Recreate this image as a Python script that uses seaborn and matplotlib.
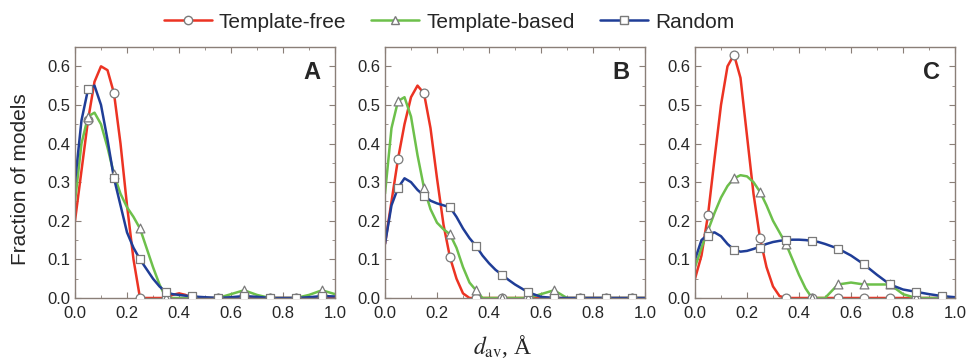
import numpy as np
import pandas as pd
import seaborn as sns
import matplotlib.pyplot as plt
from matplotlib.lines import Line2D
from matplotlib.ticker import MultipleLocator

# marker positions (bin centres) and smooth-curve sample positions
marker_x = [0.05, 0.15, 0.25, 0.35, 0.45, 0.55, 0.65, 0.75, 0.85, 0.95]
curve_x = [0, .025, .05, .075, .1, .125, .15, .175, .2, .225, .25, .275, .3, .325, .35,
           .375, .4, .425, .45, .475, .5, .55, .6, .65, .7, .75, .8, .85, .9, .95, 1.0]

series_names = ['Template-free', 'Template-based', 'Random']
panel_labels = ['A', 'B', 'C']

# Panel A
A_free = [0.46, 0.53, 0, 0, 0, 0, 0, 0, 0, 0]
A_based = [0.47, 0.32, 0.18, 0, 0, 0, 0.02, 0, 0, 0.02]
A_random = [0.54, 0.31, 0.10, 0.015, 0.005, 0, 0.005, 0, 0, 0.005]
A_free_curve = [0.20, 0.33, 0.46, 0.56, 0.60, 0.59, 0.53, 0.40, 0.24, 0.10, 0.0, 0, 0, 0, 0,
                0.008, 0.012, 0.008, 0, 0, 0, 0, 0, 0, 0, 0, 0, 0, 0, 0, 0]
A_based_curve = [0.25, 0.40, 0.47, 0.48, 0.45, 0.39, 0.32, 0.27, 0.235, 0.21, 0.18, 0.13, 0.08, 0.035, 0,
                 0, 0, 0, 0, 0, 0, 0, 0.01, 0.02, 0.008, 0, 0, 0, 0.008, 0.02, 0.01]
A_random_curve = [0.30, 0.46, 0.54, 0.55, 0.50, 0.41, 0.31, 0.24, 0.17, 0.13, 0.10, 0.075, 0.05, 0.03, 0.015,
                  0.01, 0.008, 0.006, 0.005, 0.003, 0.002, 0, 0.002, 0.005, 0.003, 0, 0, 0, 0.002, 0.005, 0.004]

# Panel B
B_free = [0.36, 0.53, 0.105, 0, 0, 0, 0, 0, 0, 0]
B_based = [0.51, 0.285, 0.165, 0.02, 0, 0, 0.02, 0, 0, 0]
B_random = [0.285, 0.265, 0.235, 0.135, 0.06, 0.015, 0, 0, 0, 0]
B_free_curve = [0.14, 0.25, 0.36, 0.45, 0.52, 0.55, 0.53, 0.44, 0.31, 0.19, 0.105, 0.05, 0.012, 0, 0,
                0, 0, 0, 0, 0, 0, 0, 0, 0, 0, 0, 0, 0, 0, 0, 0]
B_based_curve = [0.27, 0.44, 0.51, 0.52, 0.47, 0.37, 0.285, 0.23, 0.195, 0.178, 0.165, 0.13, 0.08, 0.04, 0.02,
                 0, 0, 0, 0, 0, 0, 0, 0.01, 0.02, 0, 0, 0, 0, 0, 0, 0]
B_random_curve = [0.14, 0.24, 0.285, 0.31, 0.30, 0.28, 0.265, 0.252, 0.245, 0.24, 0.235, 0.21, 0.18, 0.155, 0.135,
                  0.11, 0.09, 0.073, 0.06, 0.047, 0.035, 0.015, 0.003, 0, 0, 0, 0, 0, 0, 0, 0]

# Panel C
C_free = [0.215, 0.63, 0.155, 0, 0, 0, 0, 0, 0, 0]
C_based = [0.175, 0.31, 0.275, 0.14, 0, 0.035, 0.035, 0.035, 0, 0]
C_random = [0.16, 0.125, 0.13, 0.15, 0.148, 0.128, 0.087, 0.035, 0.016, 0.005]
C_free_curve = [0.05, 0.11, 0.215, 0.36, 0.50, 0.60, 0.63, 0.57, 0.42, 0.27, 0.155, 0.08, 0.03, 0.005, 0,
                0, 0, 0, 0, 0, 0, 0, 0, 0, 0, 0, 0, 0, 0, 0, 0]
C_based_curve = [0.08, 0.13, 0.175, 0.22, 0.26, 0.29, 0.31, 0.318, 0.315, 0.30, 0.275, 0.24, 0.20, 0.17, 0.14,
                 0.10, 0.06, 0.025, 0, 0, 0, 0.035, 0.04, 0.035, 0.035, 0.035, 0.01, 0, 0, 0, 0]
C_random_curve = [0.10, 0.15, 0.165, 0.17, 0.16, 0.14, 0.125, 0.12, 0.122, 0.127, 0.133, 0.14, 0.145, 0.148, 0.15,
                  0.151, 0.151, 0.15, 0.148, 0.145, 0.14, 0.128, 0.11, 0.087, 0.06, 0.035, 0.022, 0.016, 0.01, 0.005, 0.002]

panels = [
    (A_free, A_based, A_random, A_free_curve, A_based_curve, A_random_curve),
    (B_free, B_based, B_random, B_free_curve, B_based_curve, B_random_curve),
    (C_free, C_based, C_random, C_free_curve, C_based_curve, C_random_curve),
]

colors = ['#ec3323', '#6dc04b', '#1f3d97']
markers = ['o', '^', 's']

sns.set_style('ticks')
plt.rcParams['font.family'] = ['Liberation Sans', 'DejaVu Sans']
plt.rcParams['mathtext.fontset'] = 'stix'

fig = plt.figure(figsize=(9.68, 3.6), dpi=100)
lefts = [75 / 968, 385 / 968, 695 / 968]
for k, left in enumerate(lefts):
    ax = fig.add_axes([left, 1 - 298 / 360, 260 / 968, 251 / 360])
    for i in range(3):
        sns.lineplot(x=curve_x, y=panels[k][3 + i], ax=ax, color=colors[i], lw=1.8,
                     sort=False, estimator=None, zorder=2)
    for i in range(3):
        sns.scatterplot(x=marker_x, y=panels[k][i], ax=ax, marker=markers[i], s=40,
                        facecolor='white', edgecolor='#7a7a7a', linewidth=0.9, zorder=3)
    ax.set_xlim(0, 1.0)
    ax.set_ylim(0, 0.65)
    ax.xaxis.set_major_locator(MultipleLocator(0.2))
    ax.xaxis.set_minor_locator(MultipleLocator(0.1))
    ax.yaxis.set_major_locator(MultipleLocator(0.1))
    ax.yaxis.set_minor_locator(MultipleLocator(0.05))
    ax.tick_params(which='both', direction='in', top=True, right=True, labelsize=12,
                   color='#8a7f78')
    ax.tick_params(axis='y', pad=3.5)
    ax.tick_params(axis='x', pad=5.5)
    ax.tick_params(which='major', length=4)
    ax.tick_params(which='minor', length=2.5)
    ax.set_xticklabels([f'{v:.1f}' for v in ax.get_xticks()])
    ax.set_yticklabels([f'{v:.1f}' for v in ax.get_yticks()])
    for sp in ax.spines.values():
        sp.set_color('#8a7f78')
        sp.set_linewidth(1.0)
    ax.text(0.942, 0.945, panel_labels[k], transform=ax.transAxes, ha='right', va='top',
            fontsize=17, fontweight='bold')

fig.text(21 / 968, 1 - 179 / 360, 'Fraction of models', rotation=90, ha='center', va='center',
         fontsize=15)
fig.text(503 / 968, 1 - 346 / 360, r'$d_{\mathrm{av}}$, Å', ha='center', va='center',
         fontsize=17, family=['Liberation Serif', 'DejaVu Serif'])

handles = [Line2D([], [], color=colors[i], lw=1.8, marker=markers[i], markersize=6,
                  markerfacecolor='white', markeredgecolor='#7a7a7a') for i in range(3)]
fig.legend(handles, series_names, loc='center', bbox_to_anchor=(449 / 968, 1 - 22 / 360), ncol=3,
           frameon=False, handlelength=2.3, columnspacing=1.2, handletextpad=0.35,
           prop={'size': 15})

fig.savefig('out.png', dpi=100)
